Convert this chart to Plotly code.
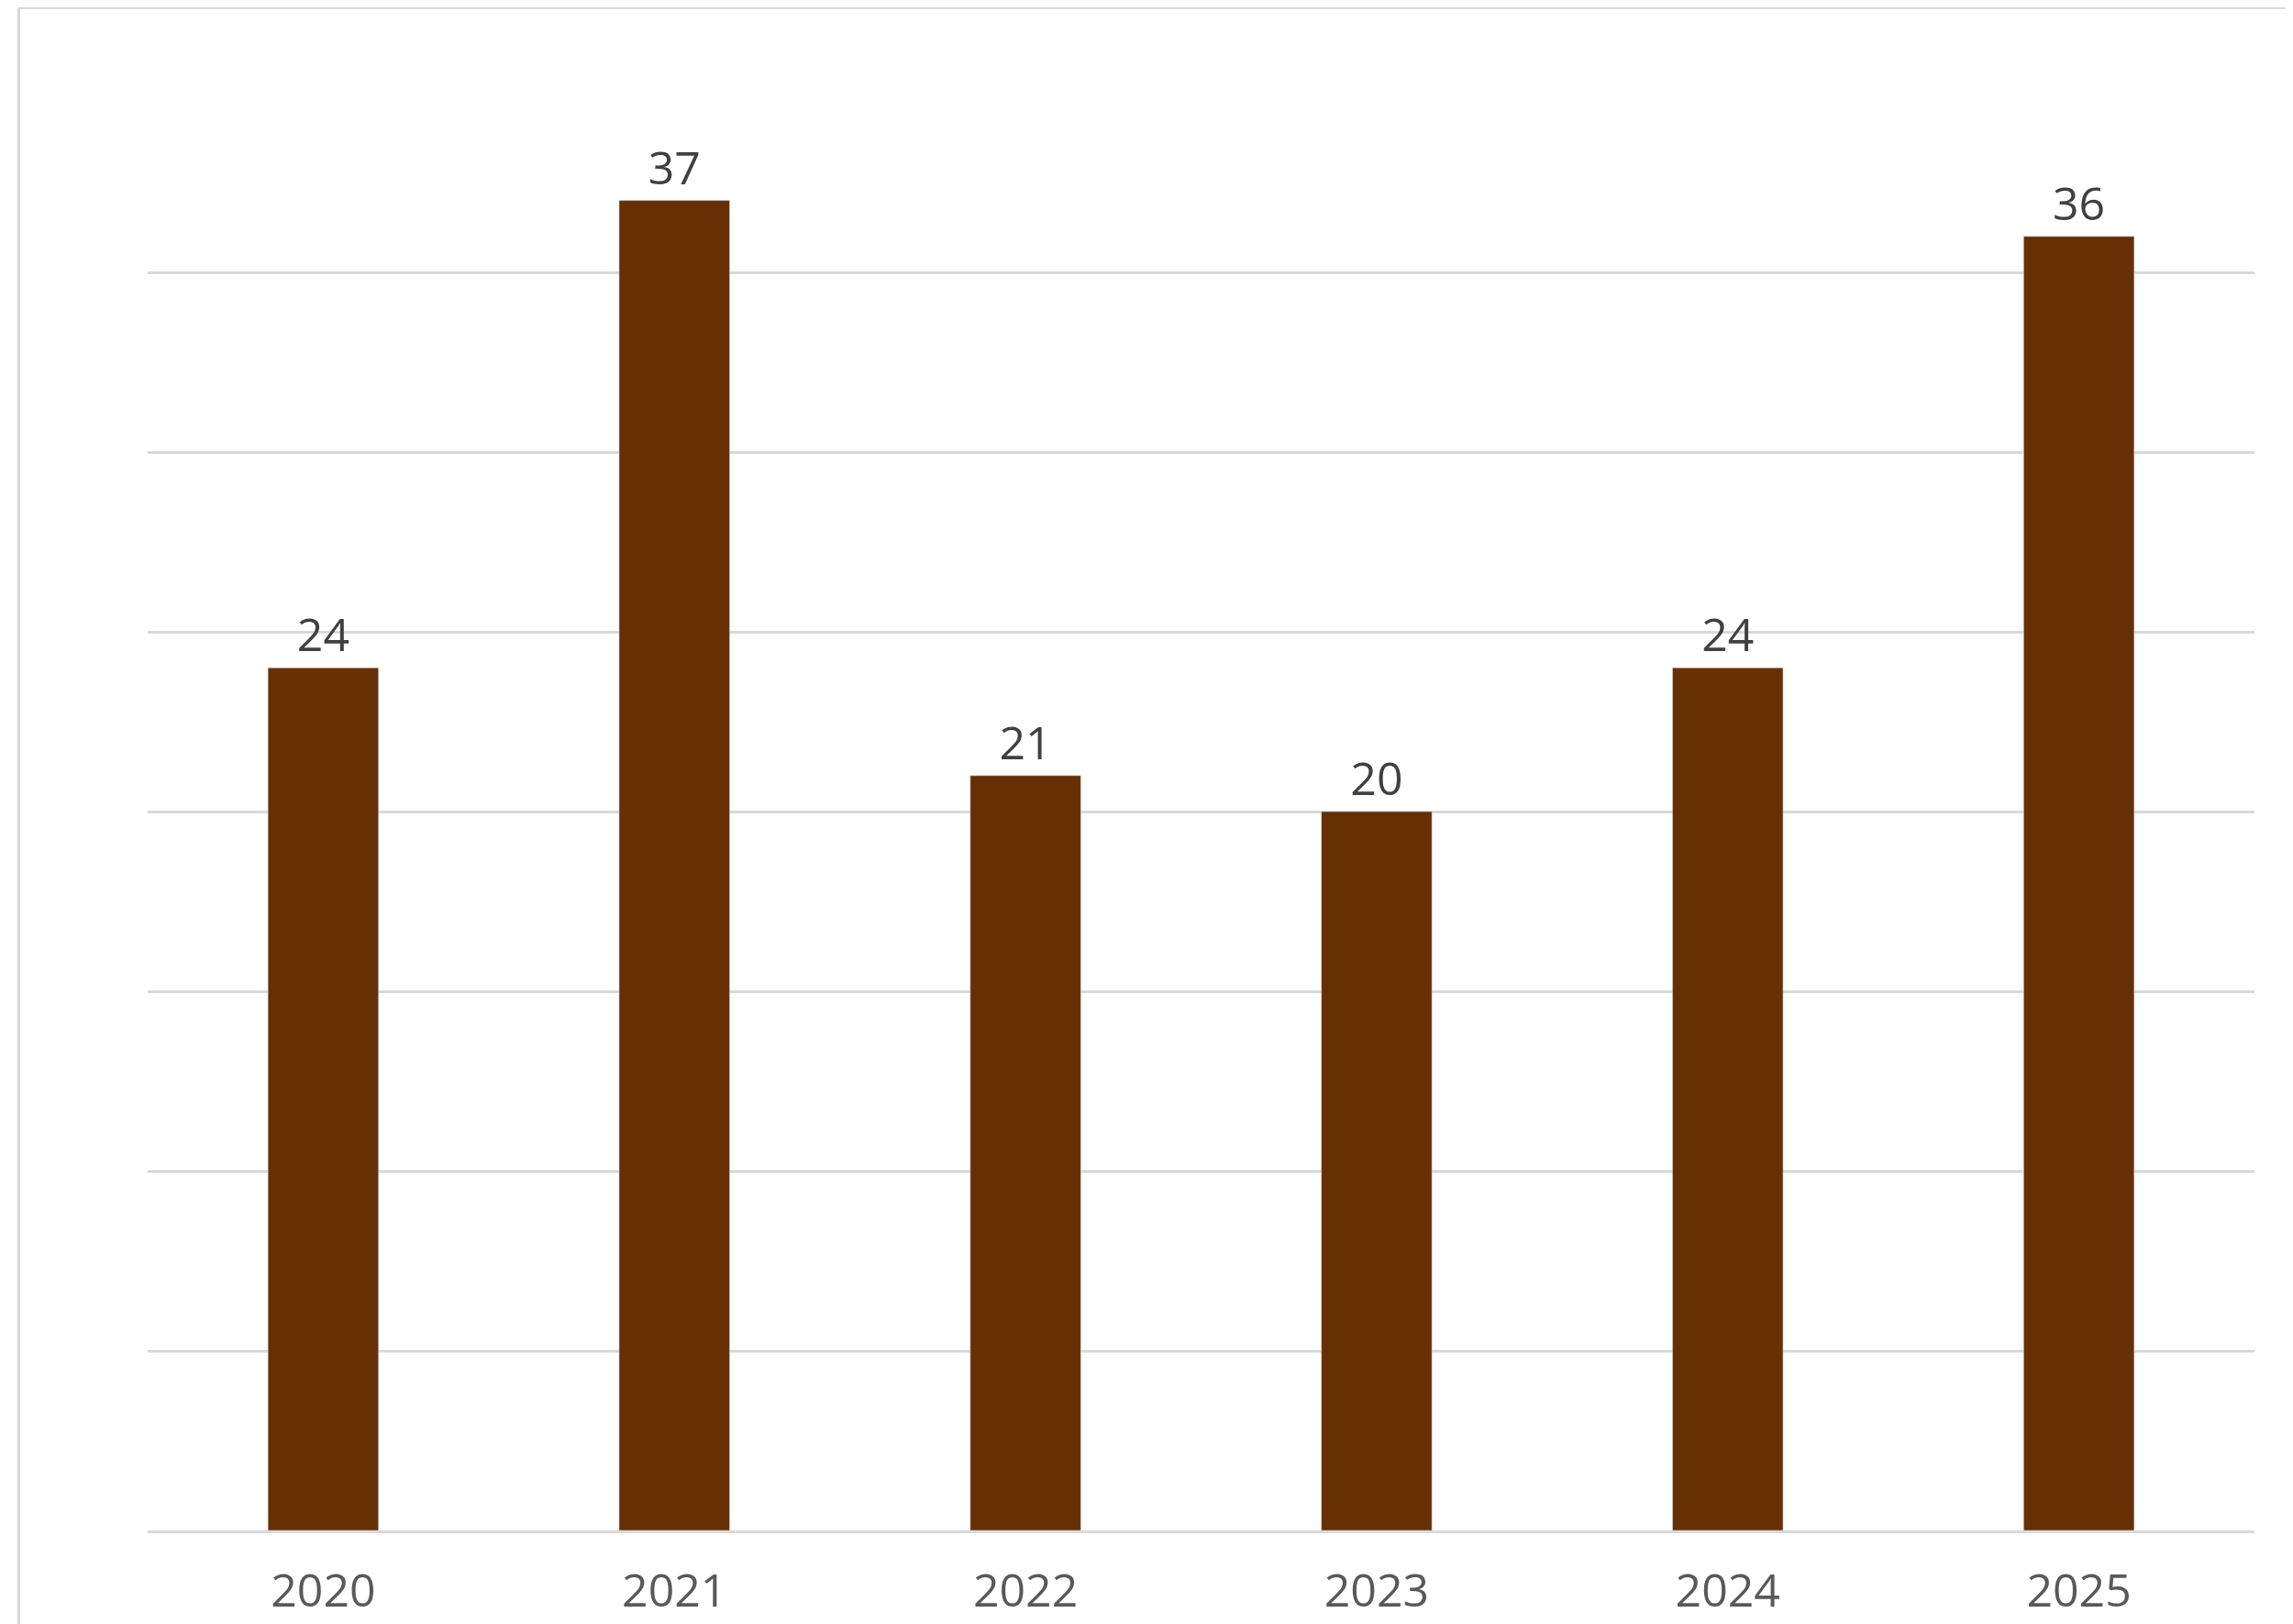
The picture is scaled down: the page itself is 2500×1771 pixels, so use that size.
import plotly.graph_objects as go

years = ["2020", "2021", "2022", "2023", "2024", "2025"]
values = [24, 37, 21, 20, 24, 36]

fig = go.Figure(go.Bar(
    x=years, y=values, marker_color="#663004", width=0.315,
    text=[str(v) for v in values], textposition="outside",
    textfont=dict(family="Open Sans", size=50, color="#404040"),
    cliponaxis=False,
))
fig.update_layout(
    width=2500, height=1771, paper_bgcolor="white", plot_bgcolor="white",
    margin=dict(l=153, r=50, t=93, b=108), showlegend=False,
    font=dict(family="Open Sans"),
    shapes=[dict(type="rect", xref="paper", yref="paper", x0=-0.0612, x1=1.02, y0=-0.068, y1=1.059,
                 line=dict(color="#d9d9d9", width=3))],
)
fig.update_xaxes(tickfont=dict(size=50, color="#595959", family="Open Sans"),
                 showline=True, linecolor="#d9d9d9", linewidth=3, ticks="", ticklabelstandoff=20)
fig.update_yaxes(range=[0, 40], dtick=5, showticklabels=False, gridcolor="#d9d9d9", gridwidth=3,
                 zeroline=False)
fig.update_traces(textfont_size=50)
fig.update_layout(uniformtext=dict(mode=False))
fig.write_html("out.html")
